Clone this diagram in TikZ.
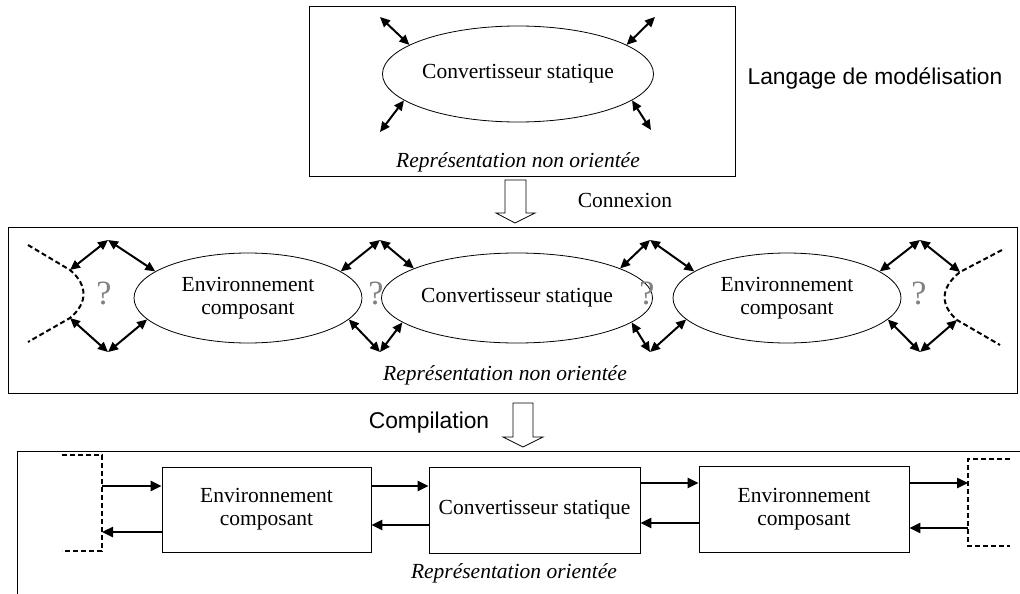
\documentclass[tikz,border=0pt]{standalone}
\usepackage{fontspec}
\setmainfont{Liberation Serif}
\newfontfamily\arialf{Liberation Sans}
\usetikzlibrary{arrows.meta,shapes.geometric}
\newcommand\mytxt{\fontsize{21.5}{23}\selectfont}
\newcommand\mysans{\arialf\fontsize{22.8}{26}\selectfont}
\newcommand\myq{\fontsize{34}{36}\selectfont}
\tikzset{
 frame/.style={draw, line width=1pt},
 ell/.style={draw, ellipse, line width=0.8pt, inner sep=0pt, align=center, font=\mytxt},
 blk/.style={draw, line width=0.9pt, inner sep=0pt, align=center, font=\mytxt},
 darr/.style={line width=2pt, {Triangle[length=10pt,width=9pt]}-{Triangle[length=10pt,width=9pt]}},
 sarr/.style={line width=2.4pt, -{Triangle[length=11pt,width=10pt]}},
 dsh/.style={line width=2pt, dash pattern=on 5pt off 3pt},
 qm/.style={font=\myq, text=gray},
 hollow/.style={draw, fill=white, line width=0.8pt},
 lbl/.style={font=\mytxt, inner sep=0pt},
 ilbl/.style={font=\mytxt\itshape, inner sep=0pt},
 slbl/.style={font=\mysans, inner sep=0pt},
}
\begin{document}
\begin{tikzpicture}[x=1pt,y=-1pt]
\useasboundingbox (0,0) rectangle (1020,594);
% ---------- top ----------
\draw[frame] (309,7) rectangle (735,176);
\node[ell, minimum width=228pt, minimum height=96pt] (c0) at (518,74) {Convertisseur statique};
\coordinate (a1) at (380,17);
\coordinate (a2) at (655,17);
\coordinate (a3) at (380,132);
\coordinate (a4) at (651,130);
\draw[darr] (a1) -- (c0.165);
\draw[darr] (c0.15) -- (a2);
\draw[darr] (c0.193) -- (a3);
\draw[darr] (c0.-13) -- (a4);
\node[ilbl] (rt0) at (518,162) {Représentation non orientée};
\node[slbl] (lang) at (875,78) {Langage de modélisation};
% block arrow 1
\draw[hollow] (505,180) -- (526,180) -- (526,213) -- (535,213) -- (515,223) -- (496,213) -- (505,213) -- cycle;
\node[lbl] (cx) at (625,200) {Connexion};
% ---------- middle ----------
\draw[frame] (8,227) rectangle (1017,393);
\node[ell, minimum width=228pt, minimum height=90pt] (e1) at (248,298) {Environnement\\composant};
\node[ell, minimum width=225pt, minimum height=90pt] (c1) at (517,298) {Convertisseur statique};
\node[ell, minimum width=228pt, minimum height=90pt] (e2) at (787,298) {Environnement\\composant};
\coordinate (t1) at (108,240); \coordinate (b1) at (108,352);
\coordinate (t2) at (380,240); \coordinate (b2) at (380,352);
\coordinate (t3) at (650,240); \coordinate (b3) at (650,352);
\coordinate (t4) at (920,240); \coordinate (b4) at (920,352);
\coordinate (l0) at (28,245); \coordinate (l1) at (70,270);
\coordinate (l2) at (70,318); \coordinate (l3) at (28,342);
\coordinate (q0) at (1002,250); \coordinate (q1) at (960,272);
\coordinate (q2) at (957,320); \coordinate (q3) at (1000,345);
\draw[dsh] (l0) -- (l1) .. controls (88,285) and (88,303) .. (l2) -- (l3);
\draw[dsh] (q0) -- (q1) .. controls (940,288) and (940,305) .. (q2) -- (q3);
\draw[darr] (l1) -- (t1); \draw[darr] (t1) -- (e1.164);
\draw[darr] (l2) -- (b1); \draw[darr] (b1) -- (e1.192);
\draw[darr] (e1.16) -- (t2); \draw[darr] (t2) -- (c1.164);
\draw[darr] (e1.-12) -- (b2); \draw[darr] (b2) -- (c1.192);
\draw[darr] (c1.16) -- (t3); \draw[darr] (t3) -- (e2.164);
\draw[darr] (c1.-12) -- (b3); \draw[darr] (b3) -- (e2.192);
\draw[darr] (e2.16) -- (t4); \draw[darr] (t4) -- (q1);
\draw[darr] (e2.-12) -- (b4); \draw[darr] (b4) -- (q2);
\node[qm] (m1q) at (104,293) {?};
\node[qm] (m2q) at (376,293) {?};
\node[qm] (m3q) at (647,293) {?};
\node[qm] (m4q) at (919,293) {?};
\node[ilbl] (rt1) at (505,375) {Représentation non orientée};
% block arrow 2
\draw[hollow] (513,403) -- (533,403) -- (533,437) -- (543,437) -- (523,447) -- (503,437) -- (513,437) -- cycle;
\node[slbl] (comp) at (429,423) {Compilation};
% ---------- bottom ----------
\draw[frame] (1020,451) -- (17,451) -- (17,594);
\node[blk, minimum width=209pt, minimum height=85pt] (e3) at (266.5,509.5) {Environnement\\composant};
\node[blk, minimum width=211pt, minimum height=86pt] (c2) at (534.5,510) {Convertisseur statique};
\node[blk, minimum width=210pt, minimum height=86pt] (e4) at (804,509) {Environnement\\composant};
\coordinate (lb0) at (62,455); \coordinate (lb1) at (102,455);
\coordinate (lb2) at (102,551); \coordinate (lb3) at (62,551);
\draw[dsh] (lb0) -- (lb1) -- (lb2) -- (lb3);
\coordinate (rb0) at (1010,459); \coordinate (rb1) at (968,459);
\coordinate (rb2) at (968,546); \coordinate (rb3) at (1010,546);
\draw[dsh] (rb0) -- (rb1) -- (rb2) -- (rb3);
\coordinate (lp1) at (102,486); \coordinate (lp2) at (102,532);
\draw[sarr] (lp1) -- (lp1 -| e3.west);
\draw[sarr] (lp2 -| e3.west) -- (lp2);
\coordinate (n1) at (400,486); \coordinate (n2) at (400,525);
\draw[sarr] (n1 -| e3.east) -- (n1 -| c2.west);
\draw[sarr] (n2 -| c2.west) -- (n2 -| e3.east);
\coordinate (n3) at (670,483); \coordinate (n4) at (670,523);
\draw[sarr] (n3 -| c2.east) -- (n3 -| e4.west);
\draw[sarr] (n4 -| e4.west) -- (n4 -| c2.east);
\coordinate (rp1) at (968,483); \coordinate (rp2) at (968,528);
\draw[sarr] (rp1 -| e4.east) -- (rp1);
\draw[sarr] (rp2) -- (rp2 -| e4.east);
\node[ilbl] (rt2) at (514,573) {Représentation orientée};
\end{tikzpicture}
\end{document}
